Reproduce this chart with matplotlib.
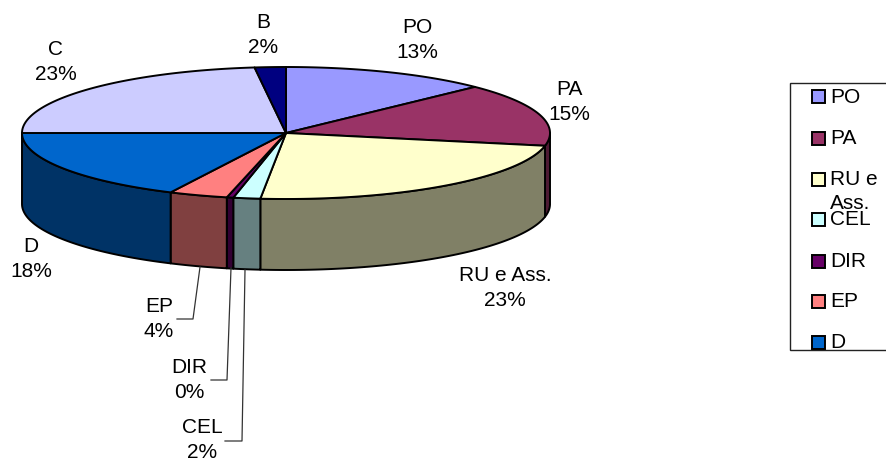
import numpy as np
import matplotlib
matplotlib.use("Agg")
import matplotlib.pyplot as plt
from matplotlib.patches import Polygon, Rectangle

plt.rcParams['font.family'] = ['Liberation Sans', 'DejaVu Sans']

names = ["PO", "PA", "RU e Ass.", "CEL", "DIR", "EP", "D", "C", "B"]
values = [12.7, 15.4, 23.45, 1.65, 0.4, 3.6, 17.8, 23.1, 1.9]
colors = ["#9999FF", "#993366", "#FFFFCC", "#CCFFFF", "#660066",
          "#FF8080", "#0066CC", "#CCCCFF", "#000080"]
legend_names = ["PO", "PA", "RU e\nAss.", "CEL", "DIR", "EP", "D"]

# pie geometry, in pixels
cx, cy = 286, 133
rx, ry = 264, 66
depth = 71
FS = 15


def rim(t):
    # t in degrees, clockwise from the top of the ellipse
    t = np.radians(t)
    return cx + rx * np.sin(t), cy - ry * np.cos(t)


def shade(c):
    return tuple(v * 0.5 for v in matplotlib.colors.to_rgb(c))


fig = plt.figure(figsize=(8.87, 4.61), dpi=100)
ax = fig.add_axes([0, 0, 1, 1])
ax.set_xlim(0, 887)
ax.set_ylim(461, 0)
ax.axis("off")

edges = np.cumsum([0] + values) * 3.6

# side walls first, only the front half of the rim shows
for i in range(len(values)):
    a = max(edges[i], 90)
    b = min(edges[i + 1], 270)
    if b <= a:
        continue
    t = np.linspace(a, b, 80)
    x, y = rim(t)
    pts = np.r_[np.c_[x, y], np.c_[x, y + depth][::-1]]
    ax.add_patch(Polygon(pts, closed=True, fc=shade(colors[i]), ec="black", lw=1.4, joinstyle="round"))

# top faces
for i in range(len(values)):
    t = np.linspace(edges[i], edges[i + 1], 80)
    x, y = rim(t)
    pts = np.r_[[[cx, cy]], np.c_[x, y]]
    ax.add_patch(Polygon(pts, closed=True, fc=colors[i], ec="black", lw=1.4, joinstyle="round"))

# data labels
label_pos = [(417, 40), (569, 102), (505, 288), (202, 440), (189, 380),
             (159, 319), (31, 259), (56, 62), (263, 35)]
for n, v, (lx, ly) in zip(names, values, label_pos):
    ax.text(lx, ly, f"{n}\n{round(v)}%", ha="center", va="center", fontsize=FS,
            color="black", linespacing=1.45)

# leader lines for the narrow slices
ax.plot([200, 193, 177], [267, 319, 319], color="#333333", lw=0.9)
ax.plot([231, 227, 211], [268, 380, 380], color="#333333", lw=0.9)
ax.plot([245, 242, 225], [270, 441, 441], color="#333333", lw=0.9)

# legend box runs off the right side of the figure
ax.add_patch(Rectangle((790, 83), 120, 267, fc="white", ec="#222222", lw=1.0))
legend_y = [97, 138, 179, 219, 261, 301, 342]
for n, c, ly in zip(legend_names, colors, legend_y):
    ax.add_patch(Rectangle((812, ly - 6.5), 13, 13, fc=c, ec="black", lw=1.4))
    if "\n" in n:
        first, second = n.split("\n")
        ax.text(830, ly, first, ha="left", va="center", fontsize=FS)
        ax.text(830, ly + 24, second, ha="left", va="center", fontsize=FS)
    else:
        ax.text(830, ly, n, ha="left", va="center", fontsize=FS)

fig.savefig("out.png", dpi=100)
